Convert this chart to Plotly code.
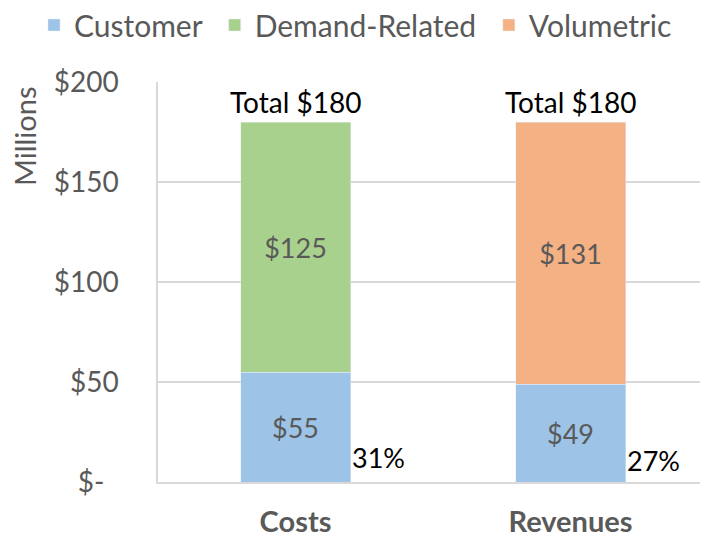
import plotly.graph_objects as go

categories = ["Costs", "Revenues"]
customer = [55, 49]
demand_related = [125, None]
volumetric = [None, 131]
totals = [180, 180]
series_names = ["Customer", "Demand-Related", "Volumetric"]
y_tickvals = [0, 50, 100, 150, 200]
y_ticktext = ["$-\u00a0\u00a0", "$50", "$100", "$150", "$200"]

FONT = "Lato"
GRAY = "#595959"
LBL = 27
PAD = "\u00a0"

fig = go.Figure()
fig.add_trace(go.Bar(
    name=series_names[0] + PAD, x=categories, y=customer, marker_color="#9DC3E6",
    text=[f"${v}" for v in customer], textposition="inside", insidetextanchor="middle",
    textfont=dict(family=FONT, size=LBL, color=GRAY), width=0.4,
))
fig.add_trace(go.Bar(
    name=series_names[1] + PAD, x=categories, y=demand_related, marker_color="#A9D18E",
    text=[f"${v}" if v is not None else "" for v in demand_related], textposition="inside",
    insidetextanchor="middle", textfont=dict(family=FONT, size=LBL, color=GRAY), width=0.4,
))
fig.add_trace(go.Bar(
    name=series_names[2], x=categories, y=volumetric, marker_color="#F4B183",
    text=[f"${v}" if v is not None else "" for v in volumetric], textposition="inside",
    insidetextanchor="middle", textfont=dict(family=FONT, size=LBL, color=GRAY), width=0.4,
))

for cat, tot, cust in zip(categories, totals, customer):
    fig.add_annotation(x=cat, y=tot, text=f"Total ${tot}", showarrow=False,
                       yanchor="bottom", yshift=1,
                       font=dict(family=FONT, size=28, color="black"))
    fig.add_annotation(x=cat, y=cust * 0.22, text=f"{round(cust / tot * 100)}%", showarrow=False,
                       xanchor="left", xshift=54,
                       font=dict(family=FONT, size=27, color="black"))

fig.add_annotation(xref="paper", yref="paper", x=-0.2436, y=0.865, text="Millions",
                   textangle=-90, showarrow=False, xanchor="center", yanchor="middle",
                   font=dict(family=FONT, size=29, color=GRAY))

fig.update_layout(
    barmode="stack",
    width=700, height=529,
    margin=dict(l=150, r=0, t=74, b=55, autoexpand=False),
    plot_bgcolor="white", paper_bgcolor="white",
    showlegend=True,
    legend=dict(orientation="h", x=-0.2255, xanchor="left", y=1.1425, yanchor="middle",
                font=dict(family=FONT, size=30, color=GRAY), itemclick=False,
                traceorder="normal"),
    xaxis=dict(showline=True, linecolor="#D9D9D9", linewidth=1.5,
               tickfont=dict(family=FONT, size=29, color=GRAY, weight="bold"),
               ticklabelstandoff=13),
    yaxis=dict(range=[0, 200], tickvals=y_tickvals, ticktext=y_ticktext,
               showgrid=True, gridcolor="#D9D9D9", gridwidth=1.5,
               showline=True, linecolor="#D9D9D9", linewidth=1.5,
               zeroline=False, ticklabelstandoff=32,
               tickfont=dict(family=FONT, size=28, color=GRAY)),
)

fig.write_html("out.html")
